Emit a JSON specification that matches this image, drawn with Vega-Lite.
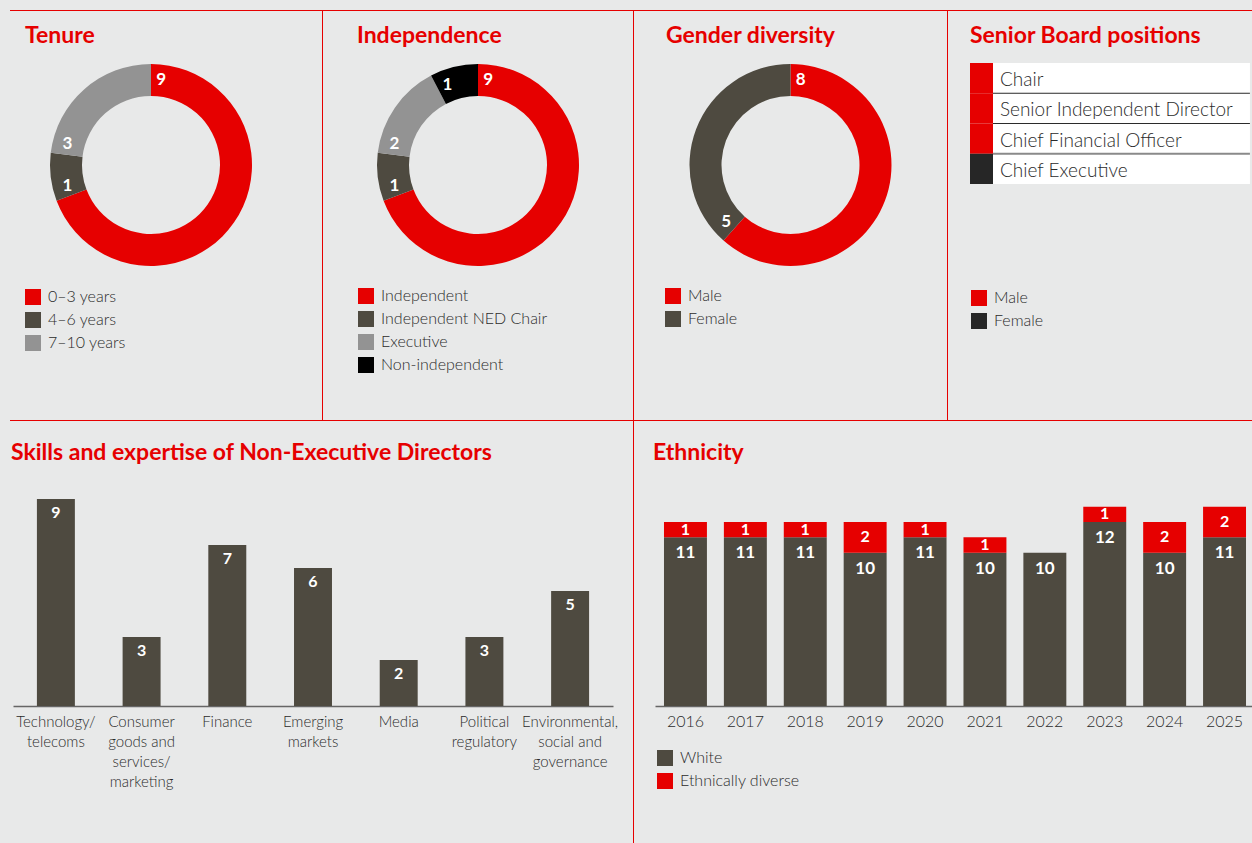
{
  "$schema": "https://vega.github.io/schema/vega-lite/v6.json",
  "background": "#e8e9e9",
  "padding": {"left": 10, "top": 10, "right": 0, "bottom": 0},
  "spacing": 0,
  "resolve": {"scale": {"color": "independent", "theta": "independent", "x": "independent", "y": "independent"}, "legend": {"color": "independent"}},
  "config": {
    "view": {"stroke": null},
    "font": "Lato",
    "legend": {"orient": "none", "title": null, "symbolType": "square", "symbolSize": 256, "symbolStrokeWidth": 0, "labelFont": "Lato", "labelFontSize": 16, "labelFontWeight": 300, "labelColor": "#2b2b2b", "rowPadding": 7, "labelOffset": 7, "padding": 0, "labelLimit": 300},
    "title": {"anchor": "start", "frame": "group", "font": "Lato", "fontSize": 23, "fontWeight": "bold", "color": "#e60000"},
    "axis": {"title": null, "grid": false, "ticks": false, "labelAngle": 0, "domainColor": "#666666", "domainWidth": 1.5, "labelFont": "Lato", "labelFontWeight": 300, "labelColor": "#2b2b2b", "labelPadding": 7, "labelOverlap": false}
  },
  "vconcat": [
    {"width": 1242, "height": 1, "data": {"values": []}, "mark": "rect", "encoding": {}, "view": {"fill": "#e60000", "stroke": null}},
    {
      "spacing": 0,
      "resolve": {"scale": {"color": "independent", "theta": "independent", "x": "independent", "y": "independent"}, "legend": {"color": "independent"}},
      "hconcat": [
        {
          "width": 282, "height": 308,
          "title": {"text": "Tenure", "offset": -37, "dx": 15},
          "data": {"values": [{"cat": "0–3 years", "n": 9}, {"cat": "4–6 years", "n": 1}, {"cat": "7–10 years", "n": 3}]},
          "transform": [{"window": [{"op": "row_number", "as": "rn"}]}],
          "layer": [
            {"mark": {"type": "arc", "innerRadius": 69, "outerRadius": 101},
             "encoding": {
               "theta": {"field": "n", "type": "quantitative", "stack": true},
               "order": {"field": "rn", "type": "quantitative"},
               "color": {"field": "cat", "type": "nominal", "scale": {"domain": ["0–3 years", "4–6 years", "7–10 years"], "range": ["#e60000", "#4e4a40", "#939393"]}, "legend": {"orient": "none", "legendX": 15, "legendY": 278}}
             }},
            {"mark": {"type": "text", "radius": 86, "thetaOffset": 0.12, "fontSize": 17, "fontWeight": "bold", "color": "white", "align": "center", "baseline": "middle"},
             "encoding": {
               "theta": {"field": "n", "type": "quantitative", "stack": true, "bandPosition": 0},
               "order": {"field": "rn", "type": "quantitative"},
               "detail": {"field": "cat", "type": "nominal"},
               "text": {"field": "n", "type": "quantitative"}
             }}
          ]
        },
        {"width": 30, "height": 1, "data": {"values": []}, "mark": "rect", "encoding": {}},
        {"width": 1, "height": 409, "data": {"values": []}, "mark": "rect", "encoding": {}, "view": {"fill": "#e60000", "stroke": null}},
        {
          "width": 310, "height": 308,
          "title": {"text": "Independence", "offset": -37, "dx": 34},
          "data": {"values": [{"cat": "Independent", "n": 9}, {"cat": "Independent NED Chair", "n": 1}, {"cat": "Executive", "n": 2}, {"cat": "Non-independent", "n": 1}]},
          "transform": [{"window": [{"op": "row_number", "as": "rn"}]}],
          "layer": [
            {"mark": {"type": "arc", "innerRadius": 69, "outerRadius": 101},
             "encoding": {
               "theta": {"field": "n", "type": "quantitative", "stack": true},
               "order": {"field": "rn", "type": "quantitative"},
               "color": {"field": "cat", "type": "nominal", "scale": {"domain": ["Independent", "Independent NED Chair", "Executive", "Non-independent"], "range": ["#e60000", "#4e4a40", "#939393", "#000000"]}, "legend": {"orient": "none", "legendX": 35, "legendY": 277}}
             }},
            {"mark": {"type": "text", "radius": 86, "thetaOffset": 0.12, "fontSize": 17, "fontWeight": "bold", "color": "white", "align": "center", "baseline": "middle"},
             "encoding": {
               "theta": {"field": "n", "type": "quantitative", "stack": true, "bandPosition": 0},
               "order": {"field": "rn", "type": "quantitative"},
               "detail": {"field": "cat", "type": "nominal"},
               "text": {"field": "n", "type": "quantitative"}
             }}
          ]
        },
        {"width": 1, "height": 409, "data": {"values": []}, "mark": "rect", "encoding": {}, "view": {"fill": "#e60000", "stroke": null}},
        {
          "width": 313, "height": 308,
          "title": {"text": "Gender diversity", "offset": -37, "dx": 32},
          "data": {"values": [{"cat": "Male", "n": 8}, {"cat": "Female", "n": 5}]},
          "transform": [{"window": [{"op": "row_number", "as": "rn"}]}],
          "layer": [
            {"mark": {"type": "arc", "innerRadius": 69, "outerRadius": 101},
             "encoding": {
               "theta": {"field": "n", "type": "quantitative", "stack": true},
               "order": {"field": "rn", "type": "quantitative"},
               "color": {"field": "cat", "type": "nominal", "scale": {"domain": ["Male", "Female"], "range": ["#e60000", "#4e4a40"]}, "legend": {"orient": "none", "legendX": 31, "legendY": 277}}
             }},
            {"mark": {"type": "text", "radius": 86, "thetaOffset": 0.12, "fontSize": 17, "fontWeight": "bold", "color": "white", "align": "center", "baseline": "middle"},
             "encoding": {
               "theta": {"field": "n", "type": "quantitative", "stack": true, "bandPosition": 0},
               "order": {"field": "rn", "type": "quantitative"},
               "detail": {"field": "cat", "type": "nominal"},
               "text": {"field": "n", "type": "quantitative"}
             }}
          ]
        },
        {"width": 1, "height": 409, "data": {"values": []}, "mark": "rect", "encoding": {}, "view": {"fill": "#e60000", "stroke": null}},
        {
          "width": 304, "height": 308,
          "title": {"text": "Senior Board positions", "offset": -37, "dx": 22},
          "data": {"values": [{"position": "Chair", "gender": "Male"}, {"position": "Senior Independent Director", "gender": "Male"}, {"position": "Chief Financial Officer", "gender": "Male"}, {"position": "Chief Executive", "gender": "Female"}]},
          "encoding": {
            "y": {"field": "position", "type": "nominal", "sort": null, "scale": {"domain": ["Chair", "Senior Independent Director", "Chief Financial Officer", "Chief Executive"], "range": [52, 173], "paddingInner": 0, "paddingOuter": 0}, "axis": null}
          },
          "layer": [
            {"mark": {"type": "rect", "color": "white"},
             "encoding": {
               "x": {"datum": 1, "type": "quantitative", "scale": {"domain": [-0.957, 12.26], "nice": false, "zero": false}, "axis": null},
               "x2": {"datum": 12.17}
             }},
            {"transform": [{"filter": "datum.position !== 'Chief Executive'"}],
             "mark": {"type": "rule"},
             "encoding": {
               "x": {"datum": 1, "type": "quantitative"},
               "x2": {"datum": 12.17},
               "y": {"field": "position", "type": "nominal", "sort": null, "bandPosition": 1},
               "color": {"condition": {"test": "datum.position === 'Chief Financial Officer'", "value": "#8a8a8a"}, "value": "#2b2b2b"},
               "strokeWidth": {"condition": {"test": "datum.position === 'Chief Financial Officer'", "value": 2}, "value": 1}
             }},
            {"mark": {"type": "rect"},
             "encoding": {
               "x": {"datum": 0, "type": "quantitative"},
               "x2": {"datum": 1},
               "color": {"field": "gender", "type": "nominal", "scale": {"domain": ["Male", "Female"], "range": ["#e60000", "#262626"]}, "legend": {"orient": "none", "legendX": 23, "legendY": 279}}
             }},
            {"mark": {"type": "text", "align": "left", "baseline": "middle", "dy": 2, "fontSize": 19, "fontWeight": 300, "color": "#2b2b2b"},
             "encoding": {
               "x": {"datum": 1.3, "type": "quantitative"},
               "text": {"field": "position", "type": "nominal"}
             }}
          ]
        }
      ]
    },
    {"width": 1242, "height": 1, "data": {"values": []}, "mark": "rect", "encoding": {}, "view": {"fill": "#e60000", "stroke": null}},
    {
      "spacing": 0,
      "resolve": {"scale": {"color": "independent", "x": "independent", "y": "independent"}, "legend": {"color": "independent"}},
      "hconcat": [
        {
          "width": 623, "height": 285,
          "title": {"text": "Skills and expertise of Non-Executive Directors", "offset": -44, "dx": 1},
          "data": {"values": [
            {"skill": "Technology/telecoms", "n": 9},
            {"skill": "Consumer goods and services/marketing", "n": 3},
            {"skill": "Finance", "n": 7},
            {"skill": "Emerging markets", "n": 6},
            {"skill": "Media", "n": 2},
            {"skill": "Political regulatory", "n": 3},
            {"skill": "Environmental, social and governance", "n": 5}
          ]},
          "encoding": {
            "x": {"field": "skill", "type": "nominal", "sort": null,
                  "scale": {"range": [3, 603], "paddingInner": 0.557, "paddingOuter": 0.279},
                  "axis": {"labelFontSize": 15, "labelLineHeight": 20, "labelPadding": 8,
                           "labelExpr": "datum.label == 'Technology/telecoms' ? ['Technology/', 'telecoms'] : datum.label == 'Consumer goods and services/marketing' ? ['Consumer', 'goods and', 'services/', 'marketing'] : datum.label == 'Emerging markets' ? ['Emerging', 'markets'] : datum.label == 'Political regulatory' ? ['Political', 'regulatory'] : datum.label == 'Environmental, social and governance' ? ['Environmental,', 'social and', 'governance'] : datum.label"}},
            "y": {"field": "n", "type": "quantitative", "scale": {"domain": [0, 12.39], "nice": false}, "axis": null}
          },
          "layer": [
            {"mark": {"type": "bar", "color": "#4e4a40"}},
            {"mark": {"type": "text", "baseline": "top", "dy": 6, "color": "white", "fontSize": 16, "fontWeight": "bold"},
             "encoding": {"text": {"field": "n", "type": "quantitative"}}}
          ]
        },
        {"width": 1, "height": 422, "data": {"values": []}, "mark": "rect", "encoding": {}, "view": {"fill": "#e60000", "stroke": null}},
        {
          "width": 618, "height": 285,
          "title": {"text": "Ethnicity", "offset": -44, "dx": 19},
          "data": {"values": [
            {"year": "2016", "group": "White", "count": 11}, {"year": "2016", "group": "Ethnically diverse", "count": 1},
            {"year": "2017", "group": "White", "count": 11}, {"year": "2017", "group": "Ethnically diverse", "count": 1},
            {"year": "2018", "group": "White", "count": 11}, {"year": "2018", "group": "Ethnically diverse", "count": 1},
            {"year": "2019", "group": "White", "count": 10}, {"year": "2019", "group": "Ethnically diverse", "count": 2},
            {"year": "2020", "group": "White", "count": 11}, {"year": "2020", "group": "Ethnically diverse", "count": 1},
            {"year": "2021", "group": "White", "count": 10}, {"year": "2021", "group": "Ethnically diverse", "count": 1},
            {"year": "2022", "group": "White", "count": 10}, {"year": "2022", "group": "Ethnically diverse", "count": 0},
            {"year": "2023", "group": "White", "count": 12}, {"year": "2023", "group": "Ethnically diverse", "count": 1},
            {"year": "2024", "group": "White", "count": 10}, {"year": "2024", "group": "Ethnically diverse", "count": 2},
            {"year": "2025", "group": "White", "count": 11}, {"year": "2025", "group": "Ethnically diverse", "count": 2}
          ]},
          "encoding": {
            "x": {"field": "year", "type": "nominal", "sort": null,
                  "scale": {"range": [21, 621], "paddingInner": 0.283, "paddingOuter": 0.15},
                  "axis": {"labelFontSize": 16, "labelPadding": 7}}
          },
          "layer": [
            {"mark": {"type": "bar"},
             "encoding": {
               "y": {"field": "count", "type": "quantitative", "stack": "zero", "scale": {"domain": [0, 18.59], "nice": false}, "axis": null},
               "color": {"field": "group", "type": "nominal", "scale": {"domain": ["White", "Ethnically diverse"], "range": ["#4e4a40", "#e60000"]}, "legend": {"orient": "none", "legendX": 23, "legendY": 329}},
               "order": {"field": "group", "sort": "descending"}
             }},
            {"mark": {"type": "text", "baseline": "middle", "color": "white", "fontSize": 16, "fontWeight": "bold"},
             "encoding": {
               "y": {"field": "count", "type": "quantitative", "stack": "zero", "bandPosition": 0.5},
               "detail": {"field": "group", "type": "nominal"},
               "order": {"field": "group", "sort": "descending"},
               "text": {"condition": {"test": "datum.group === 'White' || datum.count === 0", "value": ""}, "field": "count", "type": "quantitative"}
             }},
            {"transform": [{"filter": "datum.group === 'White'"}],
             "mark": {"type": "text", "baseline": "top", "dy": 8, "color": "white", "fontSize": 17, "fontWeight": "bold"},
             "encoding": {
               "y": {"field": "count", "type": "quantitative", "stack": null},
               "text": {"field": "count", "type": "quantitative"}
             }}
          ]
        }
      ]
    }
  ]
}
